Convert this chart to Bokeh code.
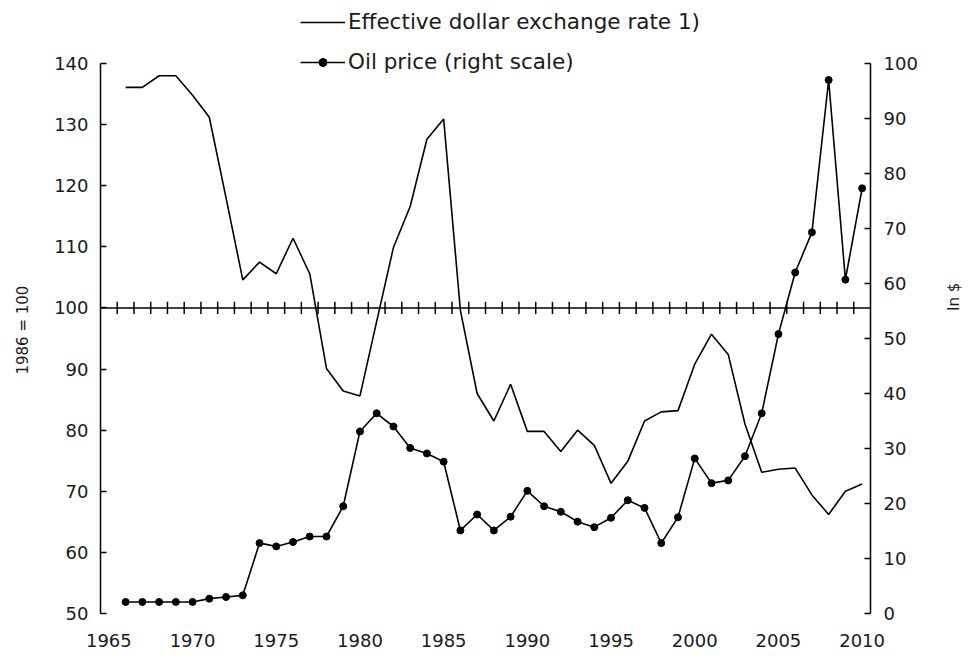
import math
from bokeh.plotting import figure
from bokeh.models import Range1d, LinearAxis, FixedTicker, Legend, LegendItem, Span, ColumnDataSource
from bokeh.embed import file_html
from bokeh.resources import INLINE

# ---- data ----
years = list(range(1966, 2011))
exchange_rate = [136.1, 136.1, 138.0, 138.0, 134.8, 131.2, 118.0, 104.6, 107.5, 105.6,
                 111.4, 105.6, 90.1, 86.4, 85.6, 97.8, 109.9, 116.6, 127.6, 130.9,
                 99.6, 86.0, 81.5, 87.5, 79.8, 79.8, 76.5, 80.0, 77.5, 71.3,
                 74.9, 81.5, 83.0, 83.2, 90.8, 95.7, 92.4, 81.0, 73.1, 73.6,
                 73.8, 69.4, 66.2, 70.0, 71.2]
oil_price = [2.1, 2.1, 2.1, 2.1, 2.1, 2.7, 3.0, 3.3, 12.8, 12.2,
             13.0, 14.0, 14.0, 19.5, 33.1, 36.4, 34.0, 30.1, 29.1, 27.6,
             15.1, 18.0, 15.1, 17.6, 22.3, 19.5, 18.5, 16.7, 15.7, 17.4,
             20.6, 19.2, 12.8, 17.5, 28.2, 23.7, 24.2, 28.6, 36.4, 50.8,
             62.0, 69.3, 97.0, 60.7, 77.3]
category_years = list(range(1965, 2011))
x_tick_labels = ["1965", "1970", "1975", "1980", "1985", "1990", "1995", "2000", "2005", "2010"]
left_ticks = [50, 60, 70, 80, 90, 100, 110, 120, 130, 140]
right_ticks = [0, 10, 20, 30, 40, 50, 60, 70, 80, 90, 100]
left_title = "1986 = 100"
right_title = "In $"
legend_labels = ["Effective dollar exchange rate 1)", "Oil price (right scale)"]
base_level = 100

FONT = "DejaVu Sans"
FS = "18px"
TXT = "#1a1a1a"
NBSP = "\u00a0"

# headroom above the top tick on both scales leaves room for the legend
left_top = left_ticks[-1] + (left_ticks[-1] - left_ticks[0]) * 0.1
right_top = right_ticks[-1] + (right_ticks[-1] - right_ticks[0]) * 0.1

p = figure(frame_width=770, frame_height=605, output_backend="svg", toolbar_location=None,
           x_range=Range1d(category_years[0] - 0.5, category_years[-1] + 0.5),
           y_range=Range1d(left_ticks[0], left_top),
           min_border_left=100, min_border_right=97, min_border_top=8, min_border_bottom=42)
p.extra_y_ranges = {"oil": Range1d(right_ticks[0], right_top)}
p.outline_line_color = None
p.xgrid.visible = False
p.ygrid.visible = False
p.background_fill_color = "white"
p.border_fill_color = "white"

# bottom axis: labels only
xa = p.xaxis[0]
xa.ticker = FixedTicker(ticks=[int(t) for t in x_tick_labels])
xa.major_label_overrides = {int(t): t for t in x_tick_labels}
xa.axis_line_color = None
xa.major_tick_line_color = None
xa.minor_tick_line_color = None
xa.major_tick_in = 0
xa.major_tick_out = 0
xa.major_label_standoff = 20
xa.major_label_text_font = FONT
xa.major_label_text_font_size = FS
xa.major_label_text_color = TXT

# left axis
ya = p.yaxis[0]
ya.ticker = FixedTicker(ticks=left_ticks)
ya.bounds = (left_ticks[0], left_ticks[-1])
ya.axis_line_color = "black"
ya.axis_line_width = 1.5
ya.major_tick_line_color = "black"
ya.major_tick_line_width = 1.5
ya.major_tick_in = 6
ya.major_tick_out = 0
ya.minor_tick_line_color = None
ya.major_label_standoff = 12
ya.major_label_text_font = FONT
ya.major_label_text_font_size = FS
ya.major_label_text_color = TXT
ya.axis_label = left_title + NBSP * 8
ya.axis_label_text_font = FONT
ya.axis_label_text_font_size = "15px"
ya.axis_label_text_font_style = "normal"
ya.axis_label_text_color = TXT
ya.axis_label_standoff = 19

# right axis
ra = LinearAxis(y_range_name="oil", ticker=FixedTicker(ticks=right_ticks))
ra.bounds = (right_ticks[0], right_ticks[-1])
ra.axis_line_color = "black"
ra.axis_line_width = 1.5
ra.major_tick_line_color = "black"
ra.major_tick_line_width = 1.5
ra.major_tick_in = 6
ra.major_tick_out = 0
ra.minor_tick_line_color = None
ra.major_label_standoff = 13
ra.major_label_text_font = FONT
ra.major_label_text_font_size = FS
ra.major_label_text_color = TXT
ra.axis_label = right_title + NBSP * 7
ra.axis_label_text_font = FONT
ra.axis_label_text_font_size = "15px"
ra.axis_label_text_font_style = "normal"
ra.axis_label_text_color = TXT
ra.axis_label_standoff = 33
ra.axis_label_orientation = math.pi / 2
p.add_layout(ra, "right")

# category axis crossing at 100
p.add_layout(Span(location=base_level, dimension="width", line_color="black", line_width=1.5))
boundaries = [y + 0.5 for y in category_years[:-1]]
p.segment(x0=boundaries, x1=boundaries, y0=[base_level - 1.0] * len(boundaries),
          y1=[base_level + 1.0] * len(boundaries), line_color="black", line_width=1.5)

src = ColumnDataSource(dict(year=years, fx=exchange_rate, oil=oil_price))
r_fx = p.line("year", "fx", source=src, line_color="black", line_width=1.6)
r_oil = p.line("year", "oil", source=src, y_range_name="oil", line_color="black", line_width=1.6)
r_oil_pts = p.scatter("year", "oil", source=src, y_range_name="oil", marker="circle", size=7,
                      fill_color="black", line_color="black")

legend = Legend(items=[LegendItem(label=legend_labels[0], renderers=[r_fx]),
                       LegendItem(label=legend_labels[1], renderers=[r_oil, r_oil_pts])],
                location=(200, 539), orientation="vertical", padding=0, margin=0, spacing=15,
                glyph_width=45, glyph_height=20, label_height=20, label_standoff=3,
                border_line_color=None, background_fill_alpha=0,
                label_text_font=FONT, label_text_font_size="21.5px", label_text_color=TXT)
p.add_layout(legend)

open("out.html", "w").write(file_html(p, INLINE))
